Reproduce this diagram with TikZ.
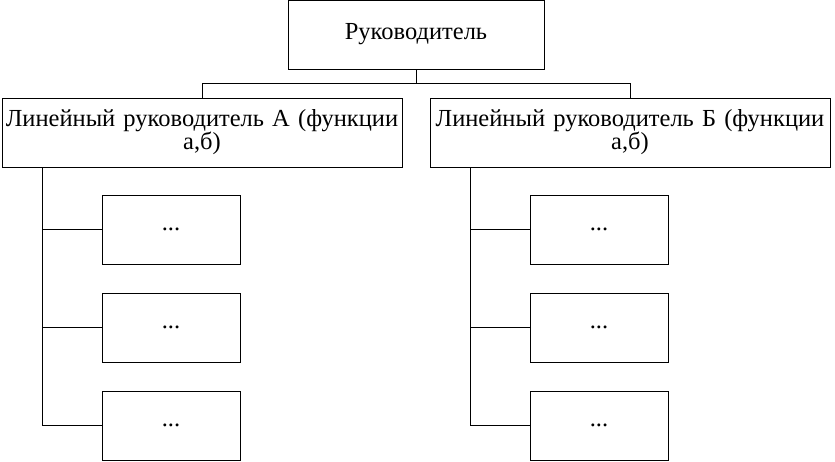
\documentclass[tikz,border=0pt]{standalone}
\usepackage{fontspec}
\setmainfont{Liberation Serif}
\begin{document}
\begin{tikzpicture}[%
      x=1pt,y=-1pt,
      every node/.style={font=\fontsize{24.5}{23}\selectfont},
      head/.style={rectangle,draw=black,line width=1pt,align=center,minimum width=256pt,minimum height=69pt,inner sep=0pt},
      line/.style={rectangle,draw=black,line width=1pt,align=center,text width=398pt,minimum width=400pt,minimum height=69pt,inner sep=0pt},
      unit/.style={rectangle,draw=black,line width=1pt,minimum width=138pt,minimum height=69pt,inner sep=0pt},
      link/.style={line width=1pt}
      ]
      \useasboundingbox (0,0) rectangle (835,461);
      \draw (416,34.5) node[head] (R) {Руководитель};
      \draw (202,132.5) node[line] (LA) {Линейный руководитель А (функции\\а,б)};
      \draw (630,132.5) node[line] (LB) {Линейный руководитель Б (функции\\а,б)};
      \coordinate (bus) at (416,83);
      \draw[link] (R.south) -- (bus) -| (LA.north);
      \draw[link] (bus) -| (LB.north);
      % subordinate units
      \foreach \b/\x in {A/171,B/599} {
        \draw (\x,229.5) node[unit] (\b1) {...};
        \draw (\x,327.5) node[unit] (\b2) {...};
        \draw (\x,425.5) node[unit] (\b3) {...};
        \coordinate (spine\b) at ([xshift=-59pt]\b1.west |- L\b.south);
        \draw[link] (spine\b) -- (spine\b |- \b3.west) -- (\b3.west);
        \draw[link] (spine\b |- \b1.west) -- (\b1.west);
        \draw[link] (spine\b |- \b2.west) -- (\b2.west);
      }
    \end{tikzpicture}
\end{document}
